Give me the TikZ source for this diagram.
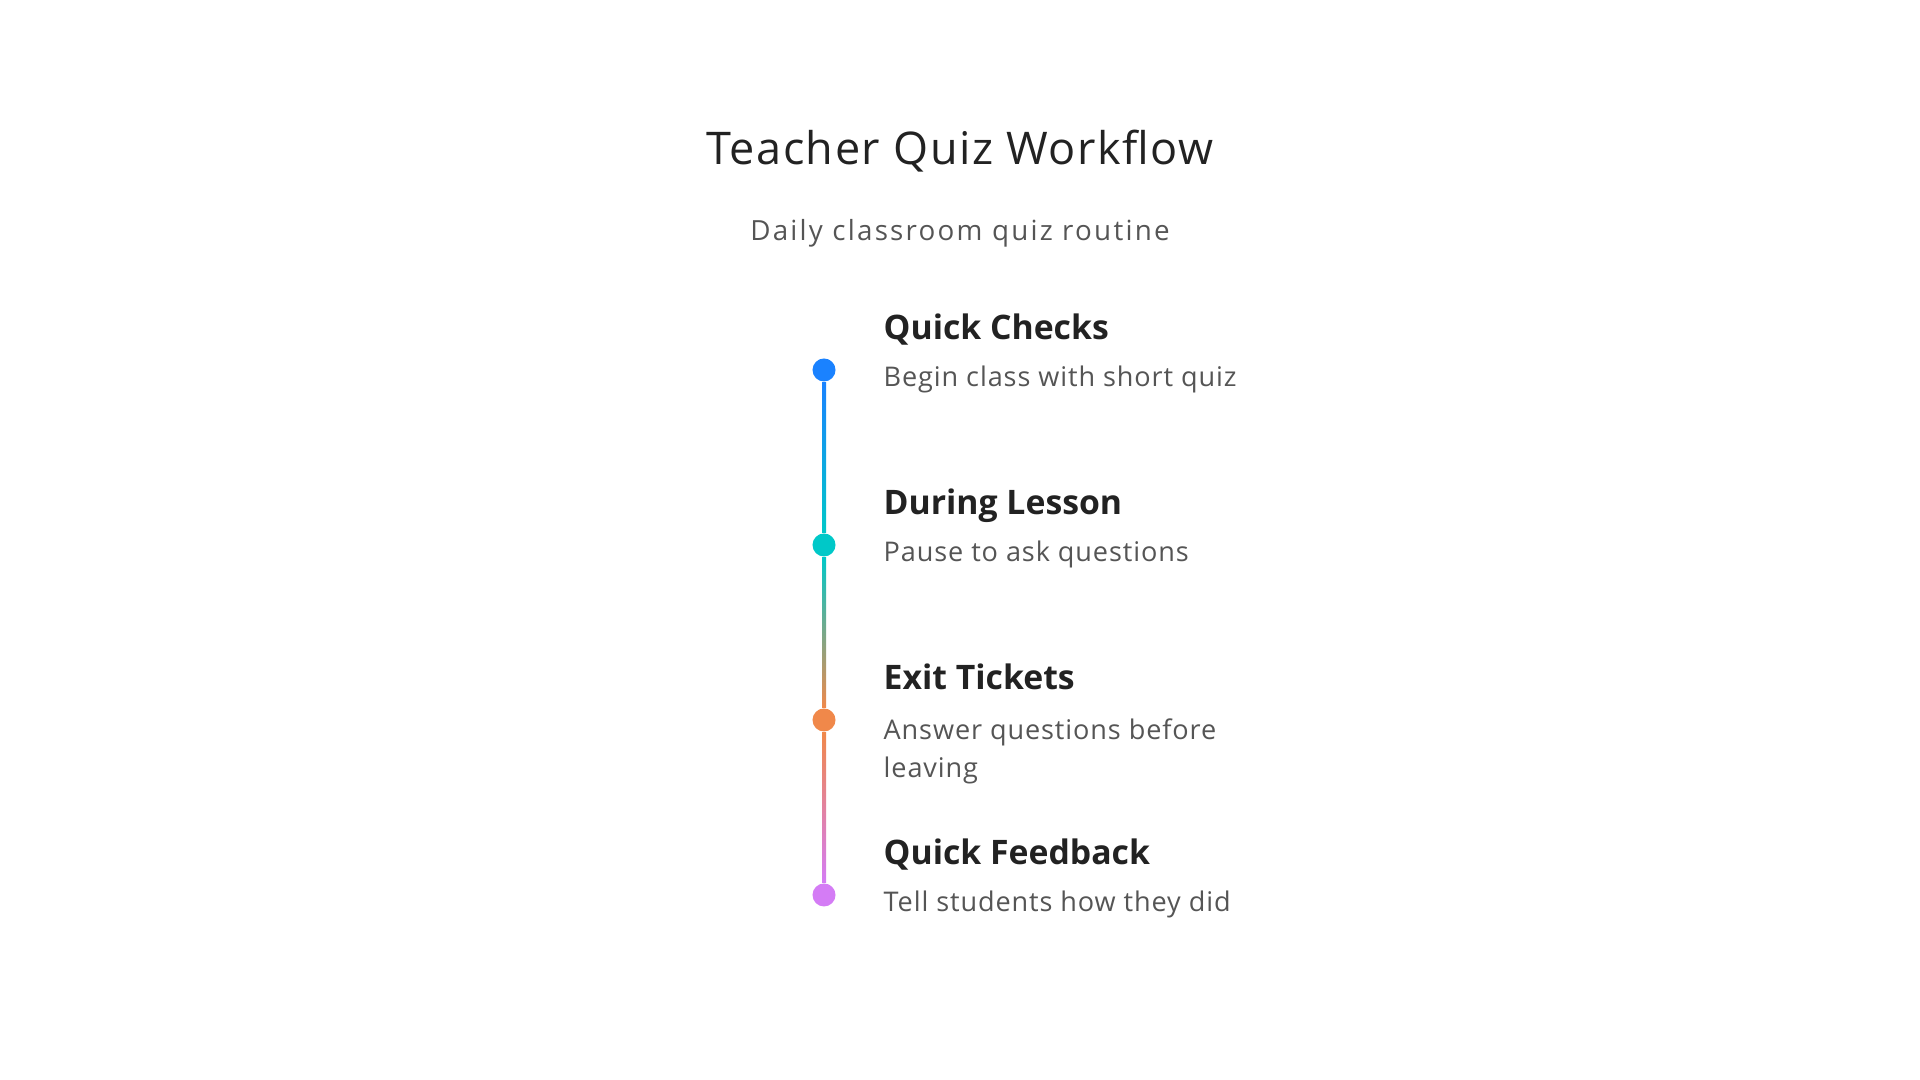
\documentclass[tikz,border=0pt]{standalone}
\usepackage{fontspec}
\setmainfont{Open Sans}
\usetikzlibrary{positioning,calc}
\definecolor{titledark}{HTML}{222222}
\definecolor{subgray}{HTML}{555555}
\definecolor{stepblue}{HTML}{1A82FF}
\definecolor{stepcyan}{HTML}{00C8C8}
\definecolor{steporange}{HTML}{F0884A}
\definecolor{stepviolet}{HTML}{D47CF5}

\begin{document}
\begin{tikzpicture}[
    x=0.01cm, y=-0.01cm,
    dot/.style={
        circle,
        inner sep=0pt,
        minimum size=0.23cm
    },
    heading/.style={
        anchor=base west,
        inner sep=0pt,
        text=titledark,
        font=\fontsize{9.6}{12}\selectfont\bfseries
    },
    desc/.style={
        anchor=base west,
        inner sep=0pt,
        align=left,
        text=subgray,
        font=\fontsize{7.7}{10.8}\selectfont\addfontfeatures{LetterSpace=3.3}
    }
]
    \useasboundingbox (0,0) rectangle (1920,1080);

    % Title
    \node[anchor=base, inner sep=0pt, text=titledark, font=\fontsize{12.8}{15}\selectfont\addfontfeatures{LetterSpace=3.4}] (title) at (960,165) {Teacher Quiz Workflow};
    \node[anchor=base, inner sep=0pt, text=subgray, font=\fontsize{7.9}{10}\selectfont\addfontfeatures{LetterSpace=8}] (subtitle) at (960,241) {Daily classroom quiz routine};

    % === TIMELINE DOTS ===
    \node[dot, fill=stepblue] (d1) at (824,370) {};
    \node[dot, fill=stepcyan] (d2) at (824,545) {};
    \node[dot, fill=steporange] (d3) at (824,720) {};
    \node[dot, fill=stepviolet] (d4) at (824,895) {};

    % Line between the dots
    \shade[top color=stepblue, bottom color=stepcyan] ($(d1.south)+(-2,0)$) rectangle ($(d2.north)+(2,0)$);
    \shade[top color=stepcyan, bottom color=steporange] ($(d2.south)+(-2,0)$) rectangle ($(d3.north)+(2,0)$);
    \shade[top color=steporange, bottom color=stepviolet] ($(d3.south)+(-2,0)$) rectangle ($(d4.north)+(2,0)$);

    % === STEP TEXTS ===
    \node[heading] (h1) at ($(d1)+(59,-30)$) {Quick Checks};
    \node[desc] (t1) at ($(h1.base west)+(0,47)$) {Begin class with short quiz};

    \node[heading] (h2) at ($(d2)+(59,-30)$) {During Lesson};
    \node[desc] (t2) at ($(h2.base west)+(0,47)$) {Pause to ask questions};

    \node[heading] (h3) at ($(d3)+(59,-30)$) {Exit Tickets};
    \node[desc, anchor=north west] (t3) at ($(h3.base west)+(0,28)$) {Answer questions before\\leaving};

    \node[heading] (h4) at ($(d4)+(59,-30)$) {Quick Feedback};
    \node[desc] (t4) at ($(h4.base west)+(0,47)$) {Tell students how they did};
\end{tikzpicture}
\end{document}
